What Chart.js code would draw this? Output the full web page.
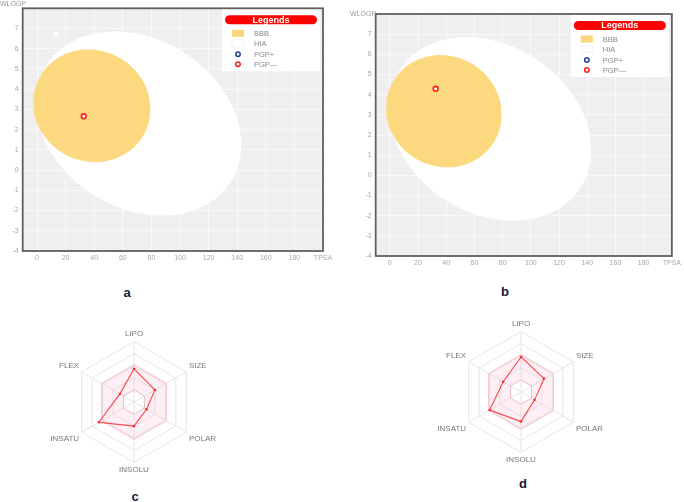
<!DOCTYPE html>
<html>
<head>
<meta charset="utf-8">
<script src="https://cdn.jsdelivr.net/npm/chart.js@4.4.1/dist/chart.umd.min.js"></script>
<style>
body{margin:0;width:684px;height:502px;background:#fff;overflow:hidden;position:relative;font-family:"Liberation Sans",Arial,sans-serif;}
canvas{position:absolute;}
.tag{position:absolute;font-weight:bold;font-size:13px;color:#111a3a;transform:translate(-50%,-50%);}
.axname{position:absolute;font-size:7px;color:#999;}
</style>
</head>
<body>
<canvas id="egg1" width="340" height="275" style="left:0;top:0"></canvas>
<canvas id="egg2" width="344" height="275" style="left:340px;top:0"></canvas>
<canvas id="radar1" width="230" height="146" style="left:19px;top:329px"></canvas>
<canvas id="radar2" width="230" height="146" style="left:406px;top:319px"></canvas>
<div class="axname" style="left:0;top:0">WLOGP</div>
<div class="axname" style="left:350px;top:10px">WLOGP</div>
<div class="tag" style="left:127px;top:292px">a</div>
<div class="tag" style="left:505px;top:291px">b</div>
<div class="tag" style="left:135px;top:496px">c</div>
<div class="tag" style="left:523px;top:483px">d</div>
<script>
// egg axes
const tpsaTicks = [0, 20, 40, 60, 80, 100, 120, 140, 160, 180, 200];
const wlogpTicks = [-4, -3, -2, -1, 0, 1, 2, 3, 4, 5, 6, 7, 8];
// ellipses: centre TPSA, centre WLOGP, half width, half height, tilt
const hiaEllipse = [71.0, 2.30, 71.8, 4.43, -0.0145];
const bbbEllipse = [38.3, 3.18, 41.0, 2.78, -0.004];
// molecules (TPSA, WLOGP)
const moleculeA = [{x: 32.7, y: 2.66}];
const moleculeB = [{x: 32.5, y: 4.29}];
const strayMarkA = [{x: 13.5, y: 6.7}];
const legendLabels = ["BBB", "HIA", "PGP+", "PGP\u2014"];

// radar
const radarAxes = ["LIPO", "SIZE", "POLAR", "INSOLU", "INSATU", "FLEX"];
const compoundC = [0.55, 0.40, 0.24, 0.40, 0.67, 0.27];
const compoundD = [0.58, 0.44, 0.26, 0.49, 0.60, 0.34];
const optimalUpper = [0.62, 0.62, 0.62, 0.62, 0.62, 0.62];
const optimalLower = [0.2, 0.2, 0.2, 0.2, 0.2, 0.2];

const font = "'Liberation Sans', Arial, sans-serif";

function ellipseArc(e, upper){
    const [cx, cy, a, b, tilt] = e;
    const d = Math.atan2(b * Math.sin(tilt), a * Math.cos(tilt));
    let pts = [];
    for(let k = 0; k <= 90; k++){
        let t = Math.PI - d + (upper ? -1 : 1) * Math.PI * k / 90;
        pts.push({
            x: cx + a * Math.cos(t) * Math.cos(tilt) - b * Math.sin(t) * Math.sin(tilt),
            y: cy + a * Math.cos(t) * Math.sin(tilt) + b * Math.sin(t) * Math.cos(tilt)
        });
    }
    return pts;
}

const eggFrame = {
    id: "eggFrame",
    beforeDraw(chart){
        let c = chart.ctx, a = chart.chartArea;
        c.save();
        c.fillStyle = "#efefef";
        c.fillRect(a.left, a.top, a.right - a.left, a.bottom - a.top);
        c.restore();
    },
    afterDraw(chart){
        let c = chart.ctx, a = chart.chartArea;
        c.save();
        // legend box
        let w = 98, h = 62;
        let x0 = a.right - w - 3, y0 = a.top + 1;
        c.fillStyle = "#fff";
        c.fillRect(x0, y0, w, h);
        c.fillStyle = "#ff0000";
        c.beginPath();
        c.roundRect(x0 + 3, y0 + 6, w - 6, 9, 4.5);
        c.fill();
        c.fillStyle = "#fff";
        c.font = "bold 9px " + font;
        c.textAlign = "center";
        c.textBaseline = "middle";
        c.fillText("Legends", x0 + w / 2, y0 + 10.8);
        let rows = [24, 34, 45, 55];
        c.font = "7.5px " + font;
        c.textAlign = "left";
        legendLabels.forEach((lab, i) => {
            let y = y0 + rows[i];
            if(i == 0){
                c.fillStyle = "#fcd67a";
                c.fillRect(x0 + 10, y - 3.5, 12, 7);
            } else if(i == 1){
                c.strokeStyle = "#f0f0f0";
                c.lineWidth = 0.8;
                c.strokeRect(x0 + 10, y - 3.5, 12, 7);
            } else {
                c.strokeStyle = i == 2 ? "#1d3f9a" : "#ff1a1a";
                c.lineWidth = 1.5;
                c.beginPath();
                c.arc(x0 + 16, y, 2.2, 0, Math.PI * 2);
                c.stroke();
            }
            c.fillStyle = "#8a8a8a";
            c.fillText(lab, x0 + 32, y + 0.5);
        });
        // frame
        c.strokeStyle = "#5f5f5f";
        c.lineWidth = 1.8;
        c.strokeRect(a.left, a.top, a.right - a.left, a.bottom - a.top);
        c.restore();
    }
};

function eggChart(id, molecule, stray, pad, yWidth){
    let sets = [
        {data: ellipseArc(hiaEllipse, true), showLine: true, borderWidth: 0, pointRadius: 0,
         backgroundColor: "#ffffff", fill: "+1", order: 5},
        {data: ellipseArc(hiaEllipse, false), showLine: true, borderWidth: 0, pointRadius: 0, fill: false, order: 5},
        {data: ellipseArc(bbbEllipse, true), showLine: true, borderWidth: 0, pointRadius: 0,
         backgroundColor: "#fcd97e", fill: "+1", order: 4},
        {data: ellipseArc(bbbEllipse, false), showLine: true, borderWidth: 0, pointRadius: 0, fill: false, order: 4},
        {data: stray, pointStyle: "rect", pointRadius: 3.2, backgroundColor: "#fff", borderWidth: 0, order: 2},
        {data: molecule, pointRadius: 2.4, borderColor: "#ff1a1a", borderWidth: 1.6, backgroundColor: "#fff", order: 1}
    ];
    return new Chart(document.getElementById(id), {
        type: "scatter",
        data: {datasets: sets},
        options: {
            responsive: false,
            animation: false,
            layout: {padding: pad},
            plugins: {legend: {display: false}, tooltip: {enabled: false}},
            scales: {
                x: {
                    type: "linear", min: -10, max: 200,
                    afterBuildTicks: s => { s.ticks = tpsaTicks.map(v => ({value: v})); },
                    afterFit: s => { s.height = 19; },
                    grid: {color: "rgba(255,255,255,0.6)", drawTicks: false},
                    border: {display: false},
                    ticks: {padding: 3, color: "#a8a8a8", font: {size: 7, family: font},
                        callback: v => v == 200 ? "TPSA" : v}
                },
                y: {
                    type: "linear", min: -4, max: 8,
                    afterBuildTicks: s => { s.ticks = wlogpTicks.map(v => ({value: v})); },
                    afterFit: s => { s.width = yWidth; },
                    grid: {color: "rgba(255,255,255,0.6)", drawTicks: false},
                    border: {display: false},
                    ticks: {padding: 4, color: "#a8a8a8", font: {size: 7, family: font},
                        callback: v => v == 8 ? "" : v}
                }
            }
        },
        plugins: [eggFrame]
    });
}

function radarChart(id, values){
    return new Chart(document.getElementById(id), {
        type: "radar",
        data: {
            labels: radarAxes,
            datasets: [
                {data: values, borderColor: "rgba(255,35,35,0.85)", borderWidth: 1.1, fill: false,
                 pointRadius: 1.2, pointBackgroundColor: "#ff2020", pointBorderWidth: 0},
                {data: optimalUpper, borderColor: "rgba(242,180,195,0.7)", borderWidth: 1,
                 backgroundColor: "rgba(245,160,182,0.17)", fill: "+1", pointRadius: 0},
                {data: optimalLower, borderColor: "rgba(242,180,195,0.7)", borderWidth: 1, fill: false, pointRadius: 0}
            ]
        },
        options: {
            responsive: false,
            animation: false,
            plugins: {legend: {display: false}, tooltip: {enabled: false}},
            scales: {
                r: {
                    min: 0, max: 1,
                    ticks: {display: false, stepSize: 0.2},
                    grid: {color: "#e6e6e6"},
                    angleLines: {color: "#e6e6e6"},
                    pointLabels: {color: "#777", padding: 3, font: {size: 8, family: font}}
                }
            }
        }
    });
}

window.onload = function(){
    eggChart("egg1", moleculeA, strayMarkA, {left: 0, right: 17, top: 8.3, bottom: 5}, 22.7);
    eggChart("egg2", moleculeB, [], {left: 0, right: 9, top: 14, bottom: 0}, 35.7);
    radarChart("radar1", compoundC);
    radarChart("radar2", compoundD);
};
</script>
</body>
</html>
